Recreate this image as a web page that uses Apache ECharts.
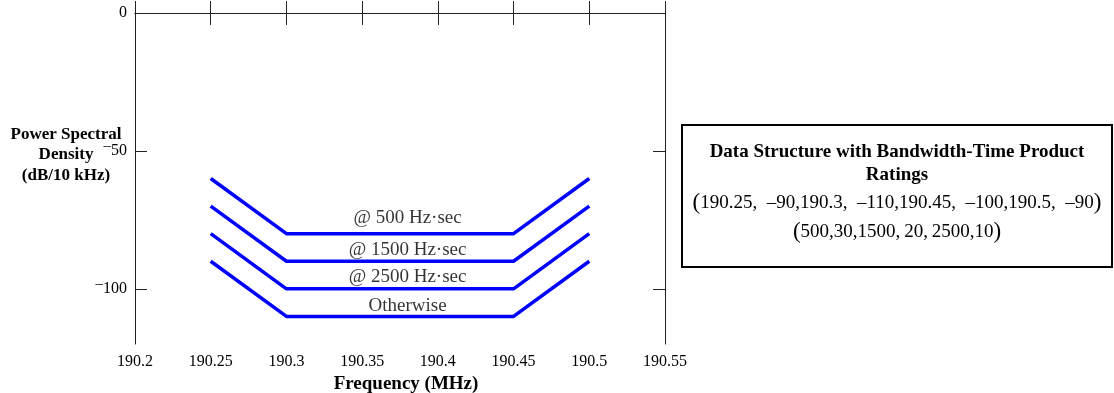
<!DOCTYPE html>
<html>
<head>
<meta charset="utf-8">
<script src="https://cdn.jsdelivr.net/npm/echarts@6/dist/echarts.min.js"></script>
<style>html,body{margin:0;padding:0;background:#fff}#c{width:1114px;height:393px}</style>
</head>
<body>
<div id="c"></div>
<script>
var freqs = [190.25, 190.3, 190.45, 190.5];
var psd500 = [-60, -80, -80, -60];
var psd1500 = [-70, -90, -90, -70];
var psd2500 = [-80, -100, -100, -80];
var psdOther = [-90, -110, -110, -90];
var curveLabels = ['@ 500 Hz\u00b7sec', '@ 1500 Hz\u00b7sec', '@ 2500 Hz\u00b7sec', 'Otherwise'];
var labelX = [190.38, 190.38, 190.38, 190.38];
var labelY = [-74.5, -85.8, -95.6, -106.2];
var xTicks = [190.2, 190.25, 190.3, 190.35, 190.4, 190.45, 190.5, 190.55];
var xTickLabels = ['190.2', '190.25', '190.3', '190.35', '190.4', '190.45', '190.5', '190.55'];
var yTicks = [0, -50, -100];
var boxTitle = ['Data Structure with Bandwidth-Time Product', 'Ratings'];
var boxData1 = '190.25,\u2002\u201390,190.3,\u2002\u2013110,190.45,\u2002\u2013100,190.5,\u2002\u201390';
var boxData2 = '500,30,1500,\u200920,\u20092500,10';

var FONT = 'Liberation Serif';
function pts(ys){ return freqs.map(function(f,i){ return [f, ys[i]]; }); }
function lineSeries(ys){
  return { type:'line', data: pts(ys), symbol:'none', silent:true,
    lineStyle:{ color:'#0000ff', width:3.5, cap:'butt' }, z:3 };
}
var chart = echarts.init(document.getElementById('c'), null, {renderer:'canvas'});
var tickBase = { show:true, inside:true, length:12, lineStyle:{ color:'#222', width:1 } };
var lineBase = { show:true, lineStyle:{ color:'#222', width:1 } };
var parenRich = {
  p:{ fontFamily:FONT, fontSize:23, color:'#000' },
  t:{ fontFamily:FONT, fontSize:19, color:'#000' }
};
chart.setOption({
  animation:false,
  backgroundColor:'#fff',
  grid:{ left:135, right:449, top:13, bottom:49, containLabel:false, outerBoundsMode:'none' },
  xAxis:[
    { type:'value', min:190.2, max:190.55, position:'bottom',
      axisLine:lineBase, splitLine:{show:false},
      axisTick:Object.assign({}, tickBase, { customValues:xTicks }),
      axisLabel:{ show:true, margin:10, fontFamily:FONT, fontSize:16, color:'#000',
        customValues: xTicks,
        formatter:function(v){ var i = xTicks.findIndex(function(t){return Math.abs(t-v)<1e-6;}); return i>=0?xTickLabels[i]:''; } },
      name:'Frequency (MHz)', nameLocation:'middle', nameGap:31,
      nameTextStyle:{ fontFamily:FONT, fontSize:19, fontWeight:'bold', color:'#000', padding:[0,0,0,12] } },
    { type:'value', min:190.2, max:190.55, position:'top',
      axisLine:lineBase, splitLine:{show:false},
      axisTick:Object.assign({}, tickBase, { customValues:xTicks }),
      axisLabel:{ show:false } }
  ],
  yAxis:[
    { type:'value', min:-120, max:0, position:'left',
      axisLine:lineBase, splitLine:{show:false},
      axisTick:Object.assign({}, tickBase, { customValues:yTicks }),
      axisLabel:{ show:true, margin:8, fontFamily:FONT, fontSize:16, color:'#000',
        customValues: yTicks,
        formatter:function(v){ v = Math.round(v); return v<0 ? '{m|\u2013}{n|'+(-v)+'}' : '{n|'+v+'}'; },
        rich:{ m:{ fontFamily:FONT, fontSize:15, color:'#000', lineHeight:9, verticalAlign:'top' },
               n:{ fontFamily:FONT, fontSize:16, color:'#000', lineHeight:24 } } } },
    { type:'value', min:-120, max:0, position:'right',
      axisLine:lineBase, splitLine:{show:false},
      axisTick:Object.assign({}, tickBase, { customValues:yTicks }),
      axisLabel:{ show:false } }
  ],
  series:[
    lineSeries(psd500), lineSeries(psd1500), lineSeries(psd2500), lineSeries(psdOther),
    { type:'scatter', symbolSize:0, silent:true, z:4,
      data: curveLabels.map(function(t,i){ return { value:[labelX[i], labelY[i]], name:t }; }),
      label:{ show:true, position:'inside', formatter:function(p){ return p.name; },
        fontFamily:FONT, fontSize:19, color:'#000', textBorderWidth:0 } }
  ],
  graphic:[
    { type:'text', x:66, y:155, style:{ text:'Power Spectral\nDensity\n(dB/10 kHz)',
      fontFamily:FONT, fontSize:17, fontWeight:'bold', fill:'#000', align:'center', verticalAlign:'middle', lineHeight:20.5 } },
    { type:'rect', shape:{ x:682, y:125, width:430, height:142 }, style:{ fill:'#fff', stroke:'#000', lineWidth:2 } },
    { type:'text', x:897, y:152, style:{ text:boxTitle[0], fontFamily:FONT, fontSize:19, fontWeight:'bold', fill:'#000', align:'center', verticalAlign:'middle' } },
    { type:'text', x:897, y:175, style:{ text:boxTitle[1], fontFamily:FONT, fontSize:19, fontWeight:'bold', fill:'#000', align:'center', verticalAlign:'middle' } },
    { type:'text', x:897, y:203, style:{ text:'{p|(}{t|'+boxData1+'}{p|)}', rich:parenRich, fill:'#000', align:'center', verticalAlign:'middle' } },
    { type:'text', x:897, y:232, style:{ text:'{p|(}{t|'+boxData2+'}{p|)}', rich:parenRich, fill:'#000', align:'center', verticalAlign:'middle' } }
  ]
});
</script>
</body>
</html>
